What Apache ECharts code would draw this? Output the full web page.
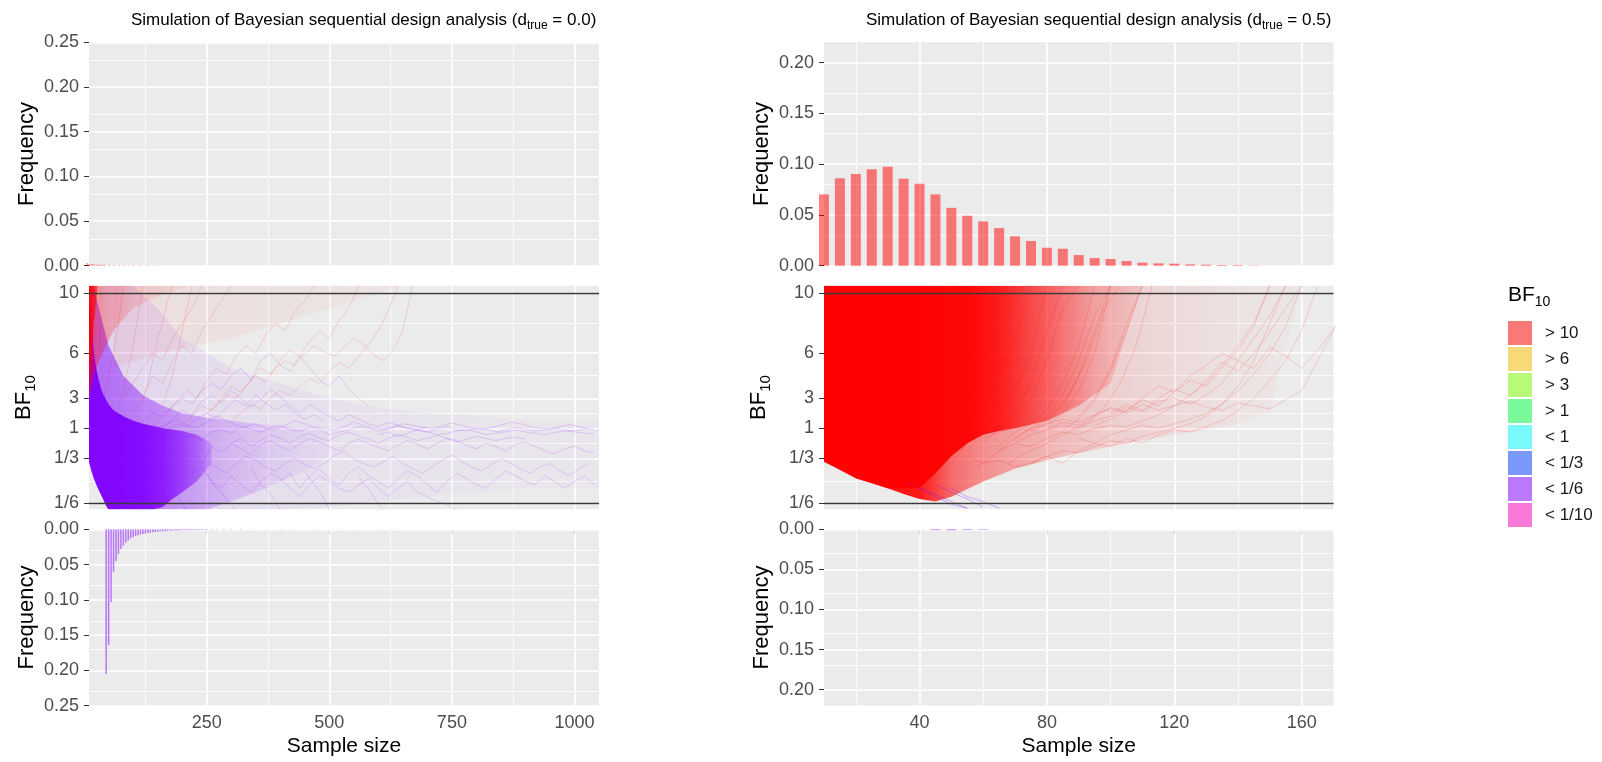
<!DOCTYPE html>
<html>
<head>
<meta charset="utf-8">
<script src="https://cdn.jsdelivr.net/npm/echarts@6.0.0/dist/echarts.min.js"></script>
<style>
  html, body { margin: 0; padding: 0; background: #fff; }
  #chart { width: 1602px; height: 762px; }
</style>
</head>
<body>
<div id="chart"></div>
<script>
// ---------- data ----------
const legendLabels = ['> 10', '> 6', '> 3', '> 1', '< 1', '< 1/3', '< 1/6', '< 1/10'];
const legendColors = ['#F97979', '#F9D879', '#B9F979', '#79F999', '#79F9F9', '#7999F9', '#B979F9', '#F979D8'];

const bfTicks = [10, 6, 3, 1, 1 / 3, 1 / 6];
const bfTickLabels = ['10', '6', '3', '1', '1/3', '1/6'];
const freqTicksL = [0, 0.05, 0.10, 0.15, 0.20, 0.25];
const freqTicksR = [0, 0.05, 0.10, 0.15, 0.20];
const sampleTicksL = [250, 500, 750, 1000];
const sampleTicksR = [40, 80, 120, 160];

// d = 0.0 : stops at upper boundary (BF > 10)
const leftUpX = [10, 15, 20, 25, 30, 35, 40, 45, 50, 60, 70, 80, 90, 100, 110, 125, 140, 150];
const leftUpFreq = [0.004, 0.003, 0.002, 0.0018, 0.0015, 0.0012, 0.0012, 0.001, 0.001, 0.0008, 0.0007, 0.0006, 0.0006, 0.0005, 0.0005, 0.0004, 0.0004, 0.0003];
// d = 0.0 : stops at lower boundary (BF < 1/6)
const leftLowX = [45, 50, 55, 60, 65, 70, 75, 80, 85, 90, 95, 100, 105, 110, 115, 120, 125, 130, 135, 140, 145, 150,
  155, 160, 165, 170, 175, 180, 185, 190, 195, 200, 205, 210, 215, 220, 225, 230, 235, 240, 245, 250,
  260, 270, 285, 300, 320, 345, 370, 400, 430, 470, 520, 560, 610, 640];
const leftLowFreq = [0.205, 0.164, 0.103, 0.060, 0.045, 0.035, 0.028, 0.023, 0.019, 0.016, 0.013, 0.011, 0.0095, 0.0085, 0.0075, 0.0068, 0.006, 0.0052, 0.0047, 0.0042, 0.0038, 0.0034,
  0.003, 0.0028, 0.0026, 0.0023, 0.0021, 0.002, 0.0018, 0.0017, 0.0015, 0.0014, 0.0013, 0.0012, 0.0012, 0.0011, 0.001, 0.001, 0.0009, 0.0009, 0.0008, 0.0008,
  0.0007, 0.0007, 0.0006, 0.0006, 0.0005, 0.0005, 0.0004, 0.0004, 0.0004, 0.0003, 0.0003, 0.0003, 0.0002, 0.0002];

// d = 0.5
const rightUpX = [10, 15, 20, 25, 30, 35, 40, 45, 50, 55, 60, 65, 70, 75, 80, 85, 90, 95, 100, 105, 110, 115, 120, 125, 130, 135, 140, 145];
const rightUpFreq = [0.0702, 0.0862, 0.0902, 0.0951, 0.0974, 0.0856, 0.0807, 0.0702, 0.057, 0.0492, 0.0436, 0.037, 0.0289, 0.0243, 0.0177, 0.0167, 0.0105, 0.0075, 0.0066, 0.0046, 0.003, 0.0023, 0.002, 0.0013, 0.001, 0.0007, 0.0006, 0.0003];
const rightLowX = [45, 50, 55, 60];
const rightLowFreq = [0.001, 0.0012, 0.0008, 0.0006];

// density envelopes of the trajectories (BF values), with opacity read along sample size
const lCoreX = [10, 15, 20, 25, 30, 35, 40, 45, 50, 60, 80, 100, 120, 140, 160, 180, 200, 230, 260];
const lCoreHi = [10.5, 8, 6, 5, 4.2, 3.6, 3.2, 2.9, 2.6, 2.2, 1.8, 1.5, 1.3, 1.15, 1.0, 0.92, 0.85, 0.7, 0.5];
const lCoreLo = [0.31, 0.26, 0.23, 0.21, 0.195, 0.183, 0.172, 0.162, 0.156, 0.156, 0.156, 0.156, 0.156, 0.156, 0.16, 0.175, 0.19, 0.22, 0.3];
const lCoreFadeX = [10, 60, 120, 160, 200, 240, 260];
const lCoreFadeA = [0.95, 0.95, 0.9, 0.8, 0.6, 0.35, 0.15];

const lMidX = [10, 20, 30, 50, 80, 120, 160, 200, 250, 300, 350, 400, 450, 500];
const lMidHi = [10.5, 10.5, 9, 6.5, 4.5, 3.2, 2.5, 2.0, 1.7, 1.5, 1.3, 1.15, 1.0, 0.8];
const lMidLo = [0.31, 0.23, 0.195, 0.156, 0.156, 0.156, 0.156, 0.156, 0.156, 0.17, 0.19, 0.22, 0.26, 0.35];
const lMidFadeX = [10, 100, 200, 300, 400, 500];
const lMidFadeA = [0.5, 0.42, 0.3, 0.17, 0.08, 0.03];

const lFaintX = [30, 60, 100, 150, 200, 300, 400, 500, 600, 700, 800, 900, 1050];
const lFaintHi = [10.5, 10.5, 10.5, 9, 7, 5, 4, 3, 2.4, 2, 1.8, 1.6, 1.5];
const lFaintLo = [0.195, 0.156, 0.156, 0.156, 0.156, 0.156, 0.156, 0.16, 0.17, 0.18, 0.19, 0.2, 0.2];
const lFaintFadeX = [30, 200, 400, 700, 1050];
const lFaintFadeA = [0.1, 0.07, 0.05, 0.03, 0.02];

const lRedX1 = [10, 13, 16, 20, 24, 28];
const lRedLo1 = [4, 5, 6.5, 8, 9.3, 10.5];
const lRedFadeX1 = [10, 28];
const lRedFadeA1 = [0.85, 0.5];
const lRedX2 = [10, 20, 30, 45, 60, 80, 100, 130, 160, 190, 220];
const lRedLo2 = [3, 4.5, 5.5, 6.5, 7.5, 8.3, 9, 9.5, 9.9, 10.2, 10.5];
const lRedFadeX2 = [10, 40, 100, 220];
const lRedFadeA2 = [0.45, 0.28, 0.12, 0.03];
const lRedX3 = [60, 150, 300, 450, 650];
const lRedLo3 = [5, 6, 7, 8.5, 10.5];
const lRedFadeX3 = [60, 650];
const lRedFadeA3 = [0.06, 0.03];

const rLowX = [10, 15, 20, 25, 30, 35, 40, 45, 50, 60, 70, 80, 90, 100, 110, 120, 130, 140, 150, 160];
const rLowLo = [0.31, 0.27, 0.231, 0.215, 0.2, 0.186, 0.175, 0.17, 0.18, 0.22, 0.27, 0.32, 0.38, 0.45, 0.55, 0.7, 0.9, 1.3, 2.2, 10.5];
const rLowFadeX = [10, 40, 50, 60, 70, 85, 100, 120, 140, 160];
const rLowFadeA = [0.95, 0.9, 0.55, 0.4, 0.3, 0.2, 0.12, 0.07, 0.04, 0.02];
const rUpX = [10, 20, 30, 40, 45, 50, 55, 60, 65, 70, 80, 90, 100, 110];
const rUpLo = [0.31, 0.231, 0.2, 0.2, 0.25, 0.35, 0.5, 0.7, 0.85, 1.0, 1.5, 2.5, 4, 10.5];
const rUpFadeX = [10, 55, 65, 75, 85, 95, 110];
const rUpFadeA = [0.95, 0.95, 0.82, 0.58, 0.38, 0.2, 0.07];

// single trajectories: [first sample size, step, BF values]
const leftPurpleLines = [
  [200, 20, [0.6, 0.7, 0.55, 0.8, 0.9, 0.75, 1.1, 0.95, 0.8, 1.0, 1.2, 0.9, 0.85, 1.05, 0.95, 0.7, 0.8, 0.9, 1.1, 1.0, 0.85, 0.95, 1.15, 1.0, 0.9, 0.8, 0.95, 1.1, 0.9, 0.85, 1.0, 0.95, 0.8, 0.9, 1.05, 0.95, 0.85, 0.9, 1.0, 0.9, 0.85, 0.95, 0.9]],
  [200, 20, [0.35, 0.4, 0.3, 0.45, 0.38, 0.5, 0.42, 0.36, 0.48, 0.55, 0.45, 0.4, 0.5, 0.6, 0.52, 0.45, 0.4, 0.5, 0.58, 0.5, 0.44, 0.4, 0.47, 0.55, 0.48, 0.42, 0.5, 0.6, 0.55, 0.47, 0.42, 0.5, 0.45, 0.4, 0.48, 0.52, 0.45, 0.4, 0.37, 0.42, 0.46, 0.4, 0.38]],
  [150, 20, [1.0, 1.3, 1.6, 1.2, 1.0, 1.4, 1.8, 1.5, 1.2, 1.1, 1.3, 1.0, 0.9, 1.2, 1.5, 1.3, 1.1, 1.0, 0.9, 1.1, 1.4, 1.2, 1.0, 0.95, 1.1, 1.3, 1.2, 1.05, 1.0, 1.15, 1.35, 1.2, 1.0, 0.9, 1.05, 1.2, 1.4, 1.3, 1.1, 1.0, 0.95, 1.1, 1.25, 1.1, 1.0]],
  [250, 20, [0.3, 0.28, 0.25, 0.3, 0.35, 0.32, 0.28, 0.26, 0.3, 0.33, 0.29, 0.27, 0.3, 0.35, 0.4, 0.33, 0.3, 0.28, 0.31, 0.35, 0.3, 0.27, 0.25, 0.28, 0.32, 0.36, 0.31, 0.28, 0.26, 0.29, 0.33, 0.3, 0.27, 0.25, 0.28, 0.3, 0.26, 0.24, 0.27, 0.3]],
  [100, 20, [1.0, 1.5, 2.0, 1.8, 2.5, 3.0, 2.6, 3.5, 4.0, 3.6, 4.5, 5.0, 4.2, 5.5, 6.0, 5.2, 4.8, 5.8, 5.0, 4.2, 3.8, 4.5, 3.6, 3.0, 2.5]],
  [120, 20, [0.8, 1.2, 1.0, 1.6, 2.2, 1.9, 2.8, 3.2, 2.7, 3.5, 3.0, 2.4, 2.9, 3.6, 3.1, 2.5, 2.0, 2.6, 2.2, 1.8, 1.5, 1.9, 1.6, 1.3, 1.1, 1.4, 1.2, 1.0, 0.9, 1.1]],
  [300, 20, [0.5, 0.6, 0.45, 0.55, 0.7, 0.6, 0.5, 0.65, 0.75, 0.6, 0.55, 0.7, 0.8, 0.65, 0.58, 0.5, 0.6, 0.7, 0.62, 0.55, 0.6, 0.68, 0.6, 0.52, 0.58, 0.65, 0.6, 0.55, 0.6, 0.63, 0.58]],
  [400, 20, [0.22, 0.25, 0.2, 0.24, 0.27, 0.23, 0.21, 0.25, 0.28, 0.24, 0.22, 0.2, 0.23, 0.26, 0.24, 0.21, 0.19, 0.22, 0.25, 0.23, 0.21, 0.2, 0.23, 0.26, 0.24, 0.22, 0.21, 0.24, 0.22, 0.2, 0.22, 0.24, 0.21]],
  [200, 20, [0.3, 0.25, 0.28, 0.22, 0.2, 0.24, 0.21, 0.19, 0.22, 0.25, 0.23, 0.2, 0.18, 0.21, 0.24, 0.22, 0.2, 0.19, 0.21, 0.23, 0.2, 0.18, 0.2, 0.22, 0.19, 0.18, 0.17, 0.165, 0.155]],
  [150, 20, [0.6, 0.9, 1.3, 1.1, 1.6, 2.0, 1.7, 2.4, 2.9, 2.5, 3.2, 2.7, 2.2, 2.6, 2.0, 1.6, 1.9, 1.4]],
  [150, 10, [0.3, 0.25, 0.22, 0.2, 0.18, 0.165, 0.155]],
  [250, 10, [0.25, 0.22, 0.2, 0.19, 0.175, 0.165, 0.155]],
  [340, 10, [0.28, 0.24, 0.21, 0.2, 0.185, 0.17, 0.155]],
  [450, 10, [0.26, 0.23, 0.21, 0.19, 0.175, 0.155]],
  [560, 10, [0.24, 0.21, 0.2, 0.18, 0.165, 0.155]],
  [600, 20, [0.7, 0.8, 0.65, 0.75, 0.9, 0.8, 0.7, 0.75, 0.85, 0.95, 0.8, 0.7, 0.75, 0.8, 0.9, 0.8, 0.75, 0.7, 0.78, 0.85, 0.8, 0.76, 0.72]]
];
const leftRedLines = [
  [250, 20, [2, 2.5, 3.2, 3, 3.8, 4.5, 4.1, 5, 5.5, 5.2, 6, 6.5, 6.1, 5.8, 6.4, 7, 6.6, 5.9, 5.5, 6.2, 7.5, 10.5]],
  [150, 20, [1.5, 2, 2.8, 3.5, 3.0, 4.2, 5, 4.6, 5.8, 6.5, 6, 7.2, 8, 7.5, 8.8, 9.5, 10.5]],
  [100, 20, [2, 3, 4.5, 4, 5.5, 6.5, 6, 7.5, 8.5, 9.5, 10.5]],
  [200, 20, [1.2, 1.8, 2.5, 2.2, 3, 3.8, 3.4, 4.2, 5, 4.6, 5.5, 6.2, 5.8, 6.8, 7.5, 7, 8.2, 9, 10.5]],
  [80, 20, [3, 4, 5, 6, 5.5, 7, 8, 9, 10.5]],
  [300, 20, [1.5, 2, 2.6, 2.3, 3, 3.5, 3.2, 3.8, 4.3, 4, 4.8, 5.4, 5, 5.8, 6.6, 7.5, 8.8, 10.5]],
  [40, 10, [3, 4.5, 6, 8, 10.5]],
  [70, 10, [2.5, 3.5, 5, 6.5, 8.5, 10.5]],
  [120, 10, [3, 4, 5.5, 7, 8, 9.5, 10.5]],
  [160, 10, [2.5, 3.5, 4.5, 6, 7.5, 9, 10.5]]
];
const rightRedLines = [
  [60, 5, [0.6, 0.8, 1.0, 0.9, 1.3, 1.6, 1.4, 1.9, 2.3, 2.0, 2.6, 2.2, 2.5, 2.8, 2.4, 2.2, 2.7, 2.5, 2.3, 2.9, 3.5, 5.5, 7.5, 10.5]],
  [70, 5, [0.5, 0.7, 0.9, 1.2, 1.0, 1.5, 1.8, 2.4, 2.1, 2.8, 3.0, 2.6, 3.2, 4.0, 5.5, 5.0, 6.4, 5.8, 5.0, 6.2, 7.6, 10.5]],
  [80, 5, [1.0, 1.4, 1.2, 1.8, 2.4, 2.1, 3.0, 3.8, 3.4, 4.5, 5.2, 6.0, 5.5, 7.0, 8.5, 10.5]],
  [65, 5, [0.4, 0.5, 0.45, 0.6, 0.8, 0.7, 1.0, 1.2, 1.1, 1.5, 1.9, 2.5, 3.2, 4.0, 5.2, 6.5, 8, 10.5]],
  [90, 5, [0.6, 0.5, 0.7, 0.9, 1.2, 1.0, 1.3, 1.6, 2.0, 2.6, 3.5, 4.6, 6, 7.8, 10.5]],
  [75, 5, [0.3, 0.35, 0.3, 0.4, 0.5, 0.45, 0.6, 0.5, 0.7, 0.9, 0.8, 1.1, 1.5, 2.2, 3.0, 4.2, 5.5, 7.5, 10.5]],
  [95, 5, [1.2, 1.6, 2.2, 2.9, 2.5, 3.4, 4.2, 3.8, 5.0, 6.2, 7.8, 10.5]],
  [55, 5, [0.35, 0.3, 0.32, 0.28, 0.3, 0.35, 0.4, 0.38, 0.45, 0.55, 0.5, 0.65, 0.8, 1.0, 1.3, 1.8, 2.6, 3.8, 5.5, 8, 10.5]],
  [100, 5, [2.0, 2.6, 2.2, 3.0, 3.6, 3.2, 4.2, 5.4, 4.8, 6.0, 7.4, 9, 10.5]],
  [45, 5, [0.35, 0.6, 1.2, 2.5, 4.5, 7, 10.5]],
  [50, 5, [0.3, 0.5, 0.9, 1.8, 3.5, 6, 10.5]],
  [55, 5, [0.4, 0.7, 1.1, 2, 4, 7.5, 10.5]],
  [60, 5, [0.5, 0.9, 1.6, 3, 5.5, 9, 10.5]],
  [65, 5, [0.45, 0.8, 1.3, 2.2, 4, 6.5, 10.5]],
  [70, 5, [0.6, 1.0, 1.8, 3.2, 5.5, 8.5, 10.5]],
  [75, 5, [0.8, 1.4, 2.5, 4.5, 7.5, 10.5]],
  [80, 5, [1.2, 2, 3.5, 6, 10.5]],
  [85, 5, [0.9, 1.6, 2.8, 4.8, 7.5, 10.5]],
  [90, 5, [1.8, 3, 5, 8, 10.5]],
  [58, 5, [0.28, 0.35, 0.5, 0.8, 1.3, 2.2, 3.6, 5.8, 9, 10.5]],
  [68, 5, [0.3, 0.38, 0.45, 0.6, 0.9, 1.4, 2.4, 4, 6.5, 10.5]]
];
const rightPurpleLines = [
  [35, 5, [0.22, 0.2, 0.18, 0.165, 0.158]],
  [45, 5, [0.21, 0.19, 0.175, 0.16]],
  [40, 5, [0.2, 0.185, 0.17, 0.158]],
  [50, 5, [0.2, 0.18, 0.17, 0.158]]
];

// ---------- helpers ----------
// BF axis: linear in BF above 1, linear in 1/BF below 1
const tBF = bf => bf >= 1 ? bf - 1 : 1 - 1 / bf;
const mids = a => a.slice(1).map((v, i) => (v + a[i]) / 2);
const BF_TOP = 10.5, BF_BOT = 1 / 6.4;

const RED = a => 'rgba(255,0,0,' + a + ')';
const PURPLE = a => 'rgba(128,0,255,' + a + ')';
const FONT = 'Liberation Sans, Arial, sans-serif';

const GRIDS = [
  { left: 89, top: 42.3, width: 510, height: 223.4 },
  { left: 89, top: 285.7, width: 510, height: 223.6 },
  { left: 89, top: 529.3, width: 510, height: 176.4 },
  { left: 824, top: 42.3, width: 509.5, height: 223.4 },
  { left: 824, top: 285.7, width: 509.5, height: 223.6 },
  { left: 824, top: 529.3, width: 509.5, height: 176.4 }
];

const tickStyle = { length: 5, lineStyle: { color: '#333', width: 1 } };
const labelStyle = { fontSize: 18, color: '#4D4D4D', fontFamily: FONT };
const nameStyle = { fontSize: 22, color: '#000', fontFamily: FONT };
const bfName = '{b|BF}{s|10}';
const bfRich = { b: { fontSize: 22, lineHeight: 28, color: '#000' }, s: { fontSize: 15, lineHeight: 15, verticalAlign: 'bottom', color: '#000' } };

function xAxisCfg(gi, min, max, ticks, bottom) {
  return {
    type: 'value', gridIndex: gi, min: min, max: max,
    axisLine: { show: false }, splitLine: { show: false },
    axisTick: Object.assign({ show: bottom, customValues: ticks }, tickStyle),
    axisLabel: Object.assign({ show: bottom, customValues: ticks, margin: 8, formatter: v => String(v) }, labelStyle),
    name: bottom ? 'Sample size' : '', nameLocation: 'middle', nameGap: 30,
    nameTextStyle: Object.assign({}, nameStyle, { fontSize: 21 })
  };
}
function freqAxis(gi, max, ticks, inverse) {
  return {
    type: 'value', gridIndex: gi, min: 0, max: max, inverse: inverse,
    axisLine: { show: false }, splitLine: { show: false },
    axisTick: Object.assign({ show: true, customValues: ticks }, tickStyle),
    axisLabel: Object.assign({ customValues: ticks, margin: 10, formatter: v => v.toFixed(2) }, labelStyle),
    name: 'Frequency', nameLocation: 'middle', nameGap: 51, nameRotate: 90, nameTextStyle: nameStyle
  };
}
function bfAxis(gi) {
  const vals = bfTicks.map(tBF);
  return {
    type: 'value', gridIndex: gi, min: tBF(BF_BOT), max: tBF(BF_TOP),
    axisLine: { show: false }, splitLine: { show: false },
    axisTick: Object.assign({ show: true, customValues: vals }, tickStyle),
    axisLabel: Object.assign({
      customValues: vals, margin: 10,
      formatter: v => {
        let k = 0;
        vals.forEach((t, i) => { if (Math.abs(t - v) < Math.abs(vals[k] - v)) k = i; });
        return bfTickLabels[k];
      }
    }, labelStyle),
    name: bfName, nameLocation: 'middle', nameGap: 51, nameRotate: 90,
    nameTextStyle: Object.assign({ rich: bfRich }, nameStyle)
  };
}

function gridLines(gi, xMaj, xMin, yMaj, yMin) {
  const d = [];
  const add = (key, v, w) => { const o = { lineStyle: { color: '#fff', width: w, type: 'solid' } }; o[key] = v; d.push(o); };
  yMin.forEach(v => add('yAxis', v, 0.8));
  xMin.forEach(v => add('xAxis', v, 0.8));
  yMaj.forEach(v => add('yAxis', v, 1.6));
  xMaj.forEach(v => add('xAxis', v, 1.6));
  return {
    type: 'line', xAxisIndex: gi, yAxisIndex: gi, data: [], silent: true, z: 1,
    markLine: { z: 1, silent: true, symbol: 'none', animation: false, label: { show: false }, data: d }
  };
}
function boundLines(gi) {
  const d = [tBF(10), tBF(1 / 6)].map(v => ({ yAxis: v }));
  return {
    type: 'line', xAxisIndex: gi, yAxisIndex: gi, data: [], silent: true, z: 6,
    markLine: { z: 6, silent: true, symbol: 'none', animation: false, label: { show: false },
      lineStyle: { color: '#3a3a3a', width: 1.4, type: 'solid' }, data: d }
  };
}
function barSeries(gi, xs, ys, width, color) {
  return {
    type: 'bar', xAxisIndex: gi, yAxisIndex: gi, barWidth: width, silent: true,
    itemStyle: { color: color }, data: xs.map((x, i) => [x, ys[i]])
  };
}
// filled envelope of many trajectories; opacity fades along sample size
function bandSeries(gi, xs, lo, hi, rgb, fadeX, fadeA) {
  const top = xs.map((x, i) => [x, tBF(Array.isArray(hi) ? hi[i] : hi)]);
  const bot = xs.map((x, i) => [x, tBF(lo[i])]).reverse();
  const pts = top.concat(bot);
  const x0 = xs[0], x1 = xs[xs.length - 1];
  const stops = fadeX.map((x, i) => ({ offset: Math.min(1, Math.max(0, (x - x0) / (x1 - x0))), color: 'rgba(' + rgb + ',' + fadeA[i] + ')' }));
  return {
    type: 'custom', xAxisIndex: gi, yAxisIndex: gi, silent: true, clip: true, data: pts,
    renderItem: (params, api) => {
      if (params.dataIndex !== 0) return null;
      return {
        type: 'polygon', shape: { points: pts.map(p => api.coord(p)) },
        style: { fill: new echarts.graphic.LinearGradient(0, 0, 1, 0, stops) }
      };
    }
  };
}
function trajSeries(gi, lines, color) {
  return lines.map(l => ({
    type: 'line', xAxisIndex: gi, yAxisIndex: gi, silent: true, showSymbol: false, clip: true,
    lineStyle: { color: color, width: 1 },
    data: l[2].map((v, i) => [l[0] + i * l[1], tBF(v)])
  }));
}

// ---------- chart ----------
const xL = [10, 1050], xR = [10, 170];
const xMinL = mids([0].concat(sampleTicksL, [1250])).filter(v => v > xL[0] && v < xL[1]);
const xMinR = mids([0].concat(sampleTicksR, [200])).filter(v => v > xR[0] && v < xR[1]);
const bfT = bfTicks.map(tBF);
const bfMinorT = mids(bfT);
const fMinL = mids(freqTicksL.concat([0.30])).filter(v => v < 0.25);
const fMinR = mids(freqTicksR.concat([0.25])).filter(v => v < 0.22);

const PUR = '128,0,255', RD = '255,0,0';

const series = [
  gridLines(0, sampleTicksL, xMinL, freqTicksL, fMinL),
  gridLines(1, sampleTicksL, xMinL, bfT, bfMinorT),
  gridLines(2, sampleTicksL, xMinL, freqTicksL, fMinL),
  gridLines(3, sampleTicksR, xMinR, freqTicksR, fMinR),
  gridLines(4, sampleTicksR, xMinR, bfT, bfMinorT),
  gridLines(5, sampleTicksR, xMinR, freqTicksR, fMinR),

  barSeries(0, leftUpX, leftUpFreq, 1.5, RED(0.5)),
  barSeries(2, leftLowX, leftLowFreq, 1.5, PURPLE(0.5)),
  barSeries(3, rightUpX, rightUpFreq, 10, RED(0.5)),
  barSeries(5, rightLowX, rightLowFreq, 10, PURPLE(0.5)),

  bandSeries(1, lFaintX, lFaintLo, lFaintHi, PUR, lFaintFadeX, lFaintFadeA),
  bandSeries(1, lMidX, lMidLo, lMidHi, PUR, lMidFadeX, lMidFadeA),
  bandSeries(1, lCoreX, lCoreLo, lCoreHi, PUR, lCoreFadeX, lCoreFadeA)
].concat(
  trajSeries(1, leftPurpleLines, PURPLE(0.16)),
  [
    bandSeries(1, lRedX3, lRedLo3, BF_TOP, RD, lRedFadeX3, lRedFadeA3),
    bandSeries(1, lRedX2, lRedLo2, BF_TOP, RD, lRedFadeX2, lRedFadeA2),
    bandSeries(1, lRedX1, lRedLo1, BF_TOP, RD, lRedFadeX1, lRedFadeA1)
  ],
  trajSeries(1, leftRedLines, RED(0.14)),
  [
    bandSeries(4, rLowX, rLowLo, BF_TOP, RD, rLowFadeX, rLowFadeA),
    bandSeries(4, rUpX, rUpLo, BF_TOP, RD, rUpFadeX, rUpFadeA)
  ],
  trajSeries(4, rightRedLines, RED(0.16)),
  trajSeries(4, rightPurpleLines, PURPLE(0.3)),
  [boundLines(1), boundLines(4)],
  legendLabels.map((n, i) => ({ type: 'bar', name: n, data: [], xAxisIndex: 0, yAxisIndex: 0, itemStyle: { color: legendColors[i] } }))
);

const titleRich = {
  m: { fontSize: 17, lineHeight: 24, color: '#000' },
  sub: { fontSize: 12, lineHeight: 12, verticalAlign: 'bottom', color: '#000' }
};
const option = {
  animation: false,
  textStyle: { fontFamily: FONT },
  title: [
    { text: '{m|Simulation of Bayesian sequential design analysis (d}{sub|true}{m| = 0.0)}', left: 126, top: 3,
      textStyle: { fontWeight: 'normal', rich: titleRich } },
    { text: '{m|Simulation of Bayesian sequential design analysis (d}{sub|true}{m| = 0.5)}', left: 861, top: 3,
      textStyle: { fontWeight: 'normal', rich: titleRich } },
    { text: bfName, left: 1503, top: 276, textStyle: { fontWeight: 'normal', rich: { b: { fontSize: 21, lineHeight: 28, color: '#000' }, s: { fontSize: 14, lineHeight: 14, verticalAlign: 'bottom', color: '#000' } } } }
  ],
  legend: {
    orient: 'vertical', left: 1503, top: 316, itemWidth: 24, itemHeight: 24, itemGap: 2,
    icon: 'rect', selectedMode: false, data: legendLabels,
    textStyle: { fontSize: 17, color: '#1A1A1A', padding: [0, 0, 0, 8] }
  },
  grid: GRIDS.map(g => Object.assign({ show: true, backgroundColor: '#EBEBEB', borderWidth: 0, containLabel: false }, g)),
  xAxis: [
    xAxisCfg(0, xL[0], xL[1], sampleTicksL, false),
    xAxisCfg(1, xL[0], xL[1], sampleTicksL, false),
    xAxisCfg(2, xL[0], xL[1], sampleTicksL, true),
    xAxisCfg(3, xR[0], xR[1], sampleTicksR, false),
    xAxisCfg(4, xR[0], xR[1], sampleTicksR, false),
    xAxisCfg(5, xR[0], xR[1], sampleTicksR, true)
  ],
  yAxis: [
    freqAxis(0, 0.25, freqTicksL, false),
    bfAxis(1),
    freqAxis(2, 0.25, freqTicksL, true),
    freqAxis(3, 0.22, freqTicksR, false),
    bfAxis(4),
    freqAxis(5, 0.22, freqTicksR, true)
  ],
  series: series
};

const chart = echarts.init(document.getElementById('chart'), null, { renderer: 'canvas' });
chart.setOption(option);
</script>
</body>
</html>
